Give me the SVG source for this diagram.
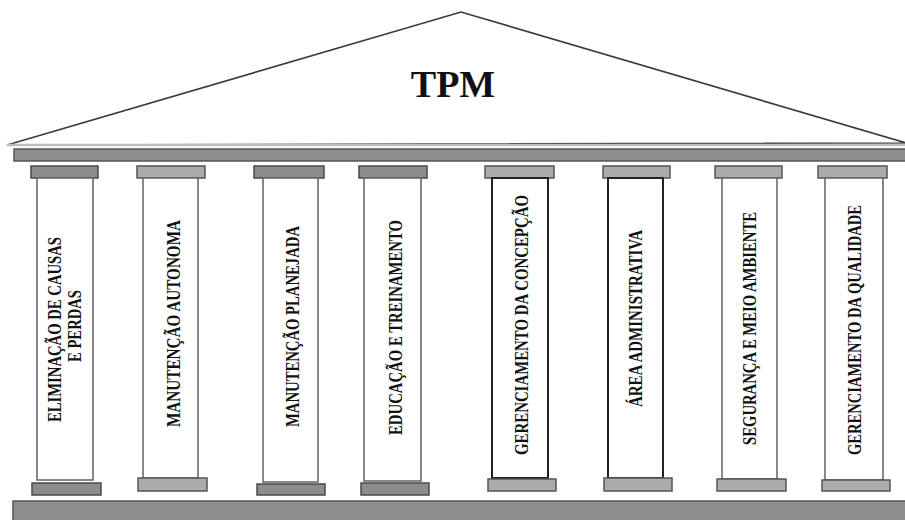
<svg xmlns="http://www.w3.org/2000/svg" width="905" height="520" viewBox="0 0 905 520">
<style>
.roof{fill:#fff;stroke:#3a3a3a;stroke-width:1.6}
.bar{fill:#8e8e8e;stroke:#555;stroke-width:1.5}
.capd{fill:#8c8c8c;stroke:#4a4a4a;stroke-width:1.5}
.capl{fill:#ababab;stroke:#555;stroke-width:1.5}
.shaft{fill:#fff;stroke:#6a6a6a;stroke-width:1.6}
.shaftd{fill:#fff;stroke:#222;stroke-width:2}
.lbl{font-family:"Liberation Serif","Times New Roman",serif;font-weight:bold;font-size:18px;fill:#111;text-anchor:middle}
.title{font-family:"Liberation Serif","Times New Roman",serif;font-weight:bold;font-size:38px;fill:#111;text-anchor:middle}
</style>
<rect width="905" height="520" fill="#fff"/>
<g id="roof">
  <polygon class="roof" points="7,145 461,12 906,143"/>
  <line x1="7" y1="145" x2="905" y2="145" stroke="#bdbdbd" stroke-width="2.5"/>
  <text class="title" x="453" y="97">TPM</text>
</g>
<g id="entablature">
  <rect class="bar" x="14" y="149" width="895" height="12"/>
</g>
<g id="stylobate">
  <rect class="bar" x="13" y="501" width="896" height="22" fill="#9a9a9a"/>
</g>
<g id="col1">
  <rect class="capd" x="31" y="166" width="67" height="12"/>
  <rect class="shaft" x="37" y="178" width="56" height="302"/>
  <rect class="capd" x="32" y="483" width="69" height="12"/>
  <text class="lbl" transform="translate(61,329.5) rotate(-90)" textLength="185" lengthAdjust="spacingAndGlyphs" style="font-size:19px">ELIMINAÇÃO DE CAUSAS</text>
  <text class="lbl" transform="translate(81,326) rotate(-90)" textLength="72" lengthAdjust="spacingAndGlyphs" style="font-size:19px">E PERDAS</text>
</g>
<g id="col2">
  <rect class="capl" x="137" y="166" width="68" height="12"/>
  <rect class="shaft" x="143" y="178" width="55" height="300"/>
  <rect class="capl" x="138" y="478" width="69" height="13"/>
  <text class="lbl" transform="translate(180,323.5) rotate(-90)" textLength="207" lengthAdjust="spacingAndGlyphs">MANUTENÇÃO AUTONOMA</text>
</g>
<g id="col3">
  <rect class="capd" x="254" y="166" width="70" height="12"/>
  <rect class="shaft" x="263" y="178" width="55" height="304"/>
  <rect class="capd" x="257" y="484" width="68" height="11"/>
  <text class="lbl" transform="translate(299,326.5) rotate(-90)" textLength="201" lengthAdjust="spacingAndGlyphs">MANUTENÇÃO PLANEJADA</text>
</g>
<g id="col4">
  <rect class="capd" x="359" y="166" width="68" height="12"/>
  <rect class="shaft" x="364" y="178" width="57" height="303"/>
  <rect class="capd" x="361" y="483" width="68" height="12"/>
  <text class="lbl" transform="translate(402,327.5) rotate(-90)" textLength="215" lengthAdjust="spacingAndGlyphs">EDUCAÇÃO E TREINAMENTO</text>
</g>
<g id="col5">
  <rect class="capl" x="485" y="166" width="69" height="12"/>
  <rect class="shaftd" x="492" y="178" width="56" height="300"/>
  <rect class="capl" x="488" y="479" width="68" height="12"/>
  <text class="lbl" transform="translate(528,325) rotate(-90)" textLength="260" lengthAdjust="spacingAndGlyphs">GERENCIAMENTO DA CONCEPÇÃO</text>
</g>
<g id="col6">
  <rect class="capl" x="603" y="166" width="67" height="12"/>
  <rect class="shaftd" x="608" y="178" width="55" height="300"/>
  <rect class="capl" x="604" y="478" width="68" height="13"/>
  <text class="lbl" transform="translate(642,318.5) rotate(-90)" textLength="177" lengthAdjust="spacingAndGlyphs">ÁREA ADMINISTRATIVA</text>
</g>
<g id="col7">
  <rect class="capl" x="715" y="166" width="67" height="12"/>
  <rect class="shaft" x="722" y="178" width="55" height="301" stroke="#444"/>
  <rect class="capl" x="717" y="479" width="69" height="12"/>
  <text class="lbl" transform="translate(756,328.5) rotate(-90)" textLength="233" lengthAdjust="spacingAndGlyphs">SEGURANÇA E MEIO AMBIENTE</text>
</g>
<g id="col8">
  <rect class="capl" x="818" y="166" width="69" height="12"/>
  <rect class="shaft" x="825" y="178" width="58" height="302"/>
  <rect class="capl" x="822" y="480" width="68" height="11"/>
  <text class="lbl" transform="translate(861,330) rotate(-90)" textLength="250" lengthAdjust="spacingAndGlyphs">GERENCIAMENTO DA QUALIDADE</text>
</g>
</svg>
